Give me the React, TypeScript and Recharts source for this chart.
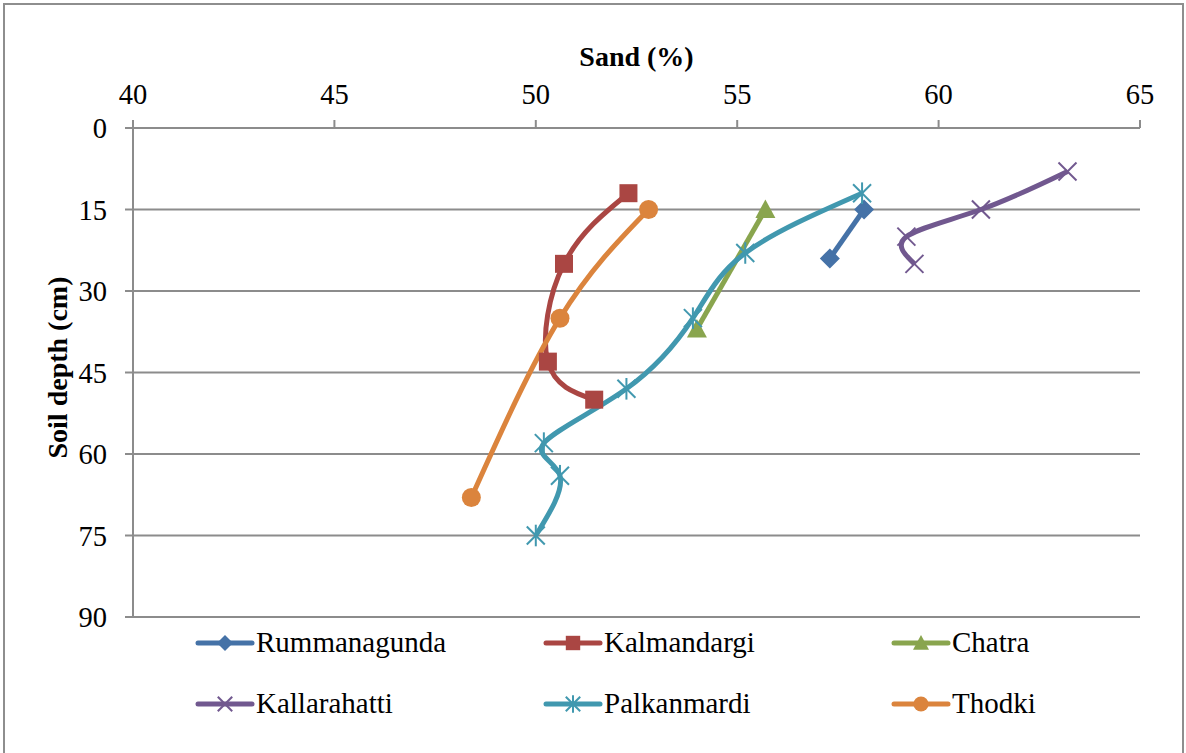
import { LineChart, Line, XAxis, YAxis, CartesianGrid, Legend } from 'recharts';

// sand (%) against soil depth (cm)
const sandTicks = [40, 45, 50, 55, 60, 65];
const depthTicks = [0, 15, 30, 45, 60, 75, 90];

const rummanagunda = [
  { sand: 58.15, depth: 15 },
  { sand: 57.3, depth: 24 },
];
const kalmandargi = [
  { sand: 52.3, depth: 12 },
  { sand: 50.7, depth: 25 },
  { sand: 50.3, depth: 43 },
  { sand: 51.45, depth: 50 },
];
const chatra = [
  { sand: 55.7, depth: 15 },
  { sand: 54.0, depth: 37 },
];
const kallarahatti = [
  { sand: 63.2, depth: 8 },
  { sand: 61.05, depth: 15 },
  { sand: 59.2, depth: 20 },
  { sand: 59.4, depth: 25 },
];
const palkanmardi = [
  { sand: 58.1, depth: 12 },
  { sand: 55.2, depth: 23 },
  { sand: 53.9, depth: 35 },
  { sand: 52.25, depth: 48 },
  { sand: 50.2, depth: 58 },
  { sand: 50.6, depth: 64 },
  { sand: 50.0, depth: 75 },
];
const thodki = [
  { sand: 52.8, depth: 15 },
  { sand: 50.6, depth: 35 },
  { sand: 48.4, depth: 68 },
];

const series = [
  { name: 'Rummanagunda', data: rummanagunda, color: '#4572A7', marker: 'diamond' },
  { name: 'Kalmandargi', data: kalmandargi, color: '#AA4643', marker: 'square' },
  { name: 'Chatra', data: chatra, color: '#89A54E', marker: 'triangle' },
  { name: 'Kallarahatti', data: kallarahatti, color: '#71588F', marker: 'cross' },
  { name: 'Palkanmardi', data: palkanmardi, color: '#4198AF', marker: 'star' },
  { name: 'Thodki', data: thodki, color: '#DB843D', marker: 'circle' },
];

const font = 'Liberation Serif';
const gridColor = '#8c8c8c';

const Marker = ({ shape, x, y, color, s = 1 }: any) => {
  if (shape === 'diamond') {
    const r = 10 * s;
    return <polygon points={`${x},${y - r} ${x + r},${y} ${x},${y + r} ${x - r},${y}`} fill={color} />;
  }
  if (shape === 'square') {
    const r = 9 * s;
    return <rect x={x - r} y={y - r} width={2 * r} height={2 * r} fill={color} />;
  }
  if (shape === 'triangle') {
    const r = 10 * s;
    return <polygon points={`${x},${y - r} ${x + r},${y + r * 0.85} ${x - r},${y + r * 0.85}`} fill={color} />;
  }
  if (shape === 'circle') {
    return <circle cx={x} cy={y} r={9.5 * s} fill={color} />;
  }
  const r = 9 * s;
  return (
    <g stroke={color} strokeWidth={2}>
      <line x1={x - r} y1={y - r} x2={x + r} y2={y + r} />
      <line x1={x - r} y1={y + r} x2={x + r} y2={y - r} />
      {shape === 'star' && <line x1={x} y1={y - r * 1.2} x2={x} y2={y + r * 1.2} />}
    </g>
  );
};

const renderDot = (shape: string, color: string) => (props: any) => {
  const { cx, cy, index } = props;
  return (
    <g key={`${shape}-${index}`}>
      <Marker shape={shape} x={cx} y={cy} color={color} />
    </g>
  );
};

const renderLegend = () => (
  <div style={{ display: 'grid', gridTemplateColumns: 'repeat(3, 348px)' }}>
    {series.map((s) => (
      <div key={s.name} style={{ display: 'flex', alignItems: 'center', height: 61 }}>
        <svg width={60} height={22}>
          <line x1={3} y1={11} x2={57} y2={11} stroke={s.color} strokeWidth={5} strokeLinecap="round" />
          <Marker shape={s.marker} x={30} y={11} color={s.color} s={0.8} />
        </svg>
        <span style={{ marginLeft: 1, fontSize: 29, fontFamily: font, color: '#000' }}>{s.name}</span>
      </div>
    ))}
  </div>
);

export default function App() {
  return (
    <div style={{ position: 'absolute', left: 0, top: 0, width: 1186, height: 753, background: '#fff', fontFamily: font }}>
      <div
        style={{
          position: 'absolute',
          left: 3,
          top: 3,
          width: 1181,
          height: 752,
          border: '2px solid #8e8e8e',
          boxSizing: 'border-box',
        }}
      />
      <div style={{ position: 'absolute', left: 0, top: 0 }}>
        <LineChart
          width={1186}
          height={753}
          layout="vertical"
          margin={{ top: 68, right: 46, bottom: 136, left: 0 }}
        >
          <CartesianGrid vertical={false} horizontal stroke={gridColor} strokeWidth={2} />
          <XAxis
            type="number"
            orientation="top"
            domain={[40, 65]}
            ticks={sandTicks}
            height={60}
            stroke={gridColor}
            strokeWidth={2}
            tickSize={8}
            tickMargin={16}
            tick={{ fontSize: 28.5, fill: '#000', fontFamily: font }}
            label={{
              value: 'Sand (%)',
              position: 'top',
              offset: 2,
              style: { fontSize: 28, fontWeight: 'bold', fill: '#000', fontFamily: font },
            }}
          />
          <YAxis
            type="number"
            dataKey="depth"
            domain={[0, 90]}
            ticks={depthTicks}
            width={133}
            stroke={gridColor}
            strokeWidth={2}
            tickSize={8}
            tickMargin={18}
            tick={{ fontSize: 28.5, fill: '#000', fontFamily: font }}
            label={{
              value: 'Soil depth (cm)',
              angle: -90,
              position: 'insideLeft',
              offset: 57,
              dy: -5,
              style: { textAnchor: 'middle', fontSize: 28, fontWeight: 'bold', fill: '#000', fontFamily: font },
            }}
          />
          <Legend
            layout="horizontal"
            verticalAlign="middle"
            align="center"
            wrapperStyle={{ top: 612, left: 195, width: 1000 }}
            content={renderLegend}
          />
          {series.map((s) => (
            <Line
              key={s.name}
              name={s.name}
              data={s.data}
              dataKey="sand"
              type="natural"
              stroke={s.color}
              strokeWidth={5}
              dot={renderDot(s.marker, s.color)}
              activeDot={false}
              isAnimationActive={false}
            />
          ))}
        </LineChart>
      </div>
    </div>
  );
}
